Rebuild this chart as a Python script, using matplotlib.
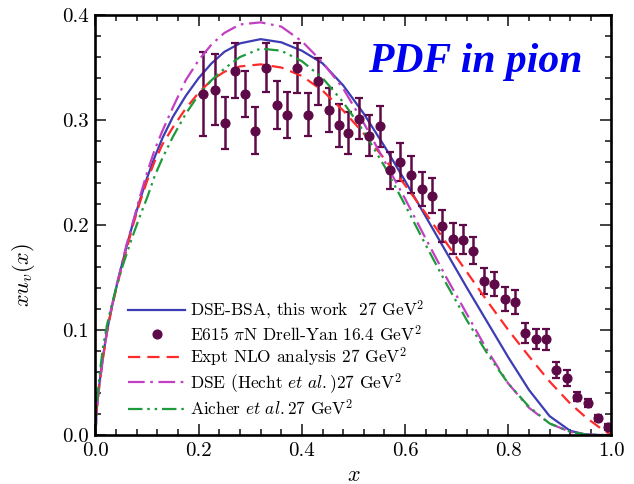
import matplotlib
matplotlib.use('Agg')
import matplotlib.pyplot as plt
from matplotlib.lines import Line2D
from matplotlib.ticker import MultipleLocator, FormatStrFormatter

plt.rcParams['font.family'] = 'cmr10'
plt.rcParams['mathtext.fontset'] = 'cm'
plt.rcParams['axes.unicode_minus'] = False
plt.rcParams['axes.formatter.use_mathtext'] = True

# E615 pi-N Drell-Yan data (16.4 GeV^2)
e615_x = [0.209, 0.231, 0.251, 0.270, 0.290, 0.310, 0.330, 0.351, 0.371, 0.391,
          0.411, 0.432, 0.452, 0.471, 0.490, 0.511, 0.531, 0.551, 0.571, 0.591,
          0.611, 0.632, 0.652, 0.672, 0.692, 0.712, 0.732, 0.752, 0.773, 0.793,
          0.813, 0.833, 0.853, 0.873, 0.893, 0.913, 0.933, 0.954, 0.973, 0.994]
e615_y = [0.325, 0.329, 0.297, 0.347, 0.325, 0.290, 0.350, 0.314, 0.305, 0.3495,
          0.305, 0.337, 0.3095, 0.295, 0.288, 0.301, 0.285, 0.294, 0.252, 0.260,
          0.248, 0.234, 0.228, 0.199, 0.187, 0.186, 0.1755, 0.1467, 0.144, 0.1295,
          0.127, 0.097, 0.091, 0.091, 0.062, 0.0543, 0.0365, 0.0305, 0.016, 0.0076]
e615_err = [0.040, 0.0335, 0.025, 0.026, 0.022, 0.022, 0.0235, 0.023, 0.022, 0.0235,
            0.0205, 0.0225, 0.021, 0.0205, 0.020, 0.0195, 0.0195, 0.0195, 0.0175, 0.0185,
            0.0178, 0.0163, 0.0165, 0.0153, 0.0145, 0.014, 0.013, 0.012, 0.0113, 0.0113,
            0.0113, 0.0095, 0.0095, 0.0098, 0.008, 0.0072, 0.004, 0.004, 0.003, 0.003]

# common x grid the curves were read on
curve_x = [0, 0.002, 0.005, 0.01, 0.015, 0.022, 0.03, 0.04, 0.05, 0.06, 0.071,
           0.085, 0.1, 0.115, 0.13, 0.15, 0.175, 0.2, 0.225, 0.25, 0.28, 0.32,
           0.36, 0.4, 0.44, 0.48, 0.52, 0.56, 0.6, 0.64, 0.68, 0.72, 0.76, 0.8,
           0.84, 0.88, 0.92, 0.95, 0.98, 1.0]

# DSE-BSA, this work, 27 GeV^2
bsa_y = [0, 0.022, 0.038, 0.058, 0.076, 0.098, 0.118, 0.14, 0.16, 0.179, 0.199,
         0.222, 0.245, 0.265, 0.283, 0.303, 0.323, 0.34, 0.354, 0.365, 0.373, 0.377,
         0.374, 0.366, 0.354, 0.333, 0.306, 0.275, 0.242, 0.208, 0.174, 0.140, 0.107, 0.074,
         0.043, 0.018, 0.004, 0.0005, 0.0, 0.0]

# Expt NLO analysis, 27 GeV^2
nlo_y = [0, 0.022, 0.037, 0.057, 0.075, 0.097, 0.117, 0.139, 0.158, 0.176, 0.197,
         0.22, 0.242, 0.261, 0.277, 0.293, 0.311, 0.326, 0.338, 0.346, 0.351, 0.353,
         0.350, 0.342, 0.328, 0.309, 0.287, 0.263, 0.238, 0.211, 0.183, 0.155, 0.127, 0.100,
         0.075, 0.051, 0.030, 0.017, 0.006, 0.0]

# DSE (Hecht et al.), 27 GeV^2
hecht_y = [0, 0.02, 0.036, 0.056, 0.075, 0.098, 0.119, 0.141, 0.161, 0.181, 0.2,
           0.225, 0.25, 0.272, 0.29, 0.312, 0.338, 0.357, 0.372, 0.383, 0.391, 0.393,
           0.389, 0.375, 0.355, 0.33, 0.297, 0.261, 0.225, 0.187, 0.150, 0.115, 0.080, 0.049,
           0.026, 0.011, 0.003, 0.0005, 0.0, 0.0]

# Aicher et al., 27 GeV^2
aicher_y = [0, 0.025, 0.043, 0.066, 0.085, 0.104, 0.121, 0.14, 0.157, 0.172, 0.188,
            0.207, 0.226, 0.247, 0.264, 0.284, 0.306, 0.324, 0.338, 0.349, 0.36, 0.368,
            0.366, 0.356, 0.34, 0.317, 0.289, 0.256, 0.219, 0.181, 0.144, 0.109, 0.077, 0.049,
            0.027, 0.011, 0.003, 0.0005, 0.0, 0.0]

labels = [r'DSE-BSA, this work  27 GeV$^2$',
          r'E615 $\pi$N Drell-Yan 16.4 GeV$^2$',
          r'Expt NLO analysis 27 GeV$^2$',
          r'DSE (Hecht $et\ al.$)27 GeV$^2$',
          r'Aicher $et\ al.$27 GeV$^2$']

dot_color = '#5e0a48'

fig = plt.figure(figsize=(6.34, 4.84), dpi=100)
ax = fig.add_axes([0.1506, 0.1012, 0.8139, 0.8678])

h_bsa, = ax.plot(curve_x, bsa_y, color='#3c3cb4', lw=1.6)
ax.errorbar(e615_x, e615_y, yerr=e615_err, fmt='o', color=dot_color, ms=6.3,
            elinewidth=1.8, capsize=3, capthick=1.6)
h_nlo, = ax.plot(curve_x, nlo_y, color='#ff2a2a', lw=1.6, linestyle=(0, (5.5, 3.2)))
h_hecht, = ax.plot(curve_x, hecht_y, color='#c23fc2', lw=1.6,
                   linestyle=(0, (7.5, 2.5, 1.2, 2.5)))
h_aicher, = ax.plot(curve_x, aicher_y, color='#1e9a3c', lw=1.6,
                    linestyle=(0, (6.5, 2.2, 1.1, 2.2, 1.1, 2.2)))
h_e615 = Line2D([], [], marker='o', ls='none', color=dot_color, ms=6.3)

ax.set_xlim(0, 1.0)
ax.set_ylim(0, 0.4)
ax.xaxis.set_major_locator(MultipleLocator(0.2))
ax.xaxis.set_minor_locator(MultipleLocator(0.04))
ax.yaxis.set_major_locator(MultipleLocator(0.1))
ax.yaxis.set_minor_locator(MultipleLocator(0.02))
ax.xaxis.set_major_formatter(FormatStrFormatter('%.1f'))
ax.yaxis.set_major_formatter(FormatStrFormatter('%.1f'))
ax.tick_params(which='both', direction='in', top=True, right=True, width=1.2,
               labelsize=15, color='#222222')
ax.tick_params(which='major', length=8, pad=5)
ax.tick_params(which='minor', length=4)
for s in ax.spines.values():
    s.set_linewidth(1.9)

ax.set_xlabel(r'$x$', fontsize=16)
ax.set_ylabel(r'$xu_v(x)$', fontsize=16)
ax.xaxis.set_label_coords(0.5, -0.072)
ax.yaxis.set_label_coords(-0.114, 0.38)

ax.text(0.528, 0.864, 'PDF in pion', transform=ax.transAxes, color='#0000f0',
        fontsize=30, fontweight='bold', fontstyle='italic',
        family='Liberation Serif', va='baseline', ha='left')

ax.legend([h_bsa, h_e615, h_nlo, h_hecht, h_aicher], labels,
          loc='lower left', bbox_to_anchor=(0.063, 0.04), frameon=False,
          fontsize=12.5, handlelength=3.3, handletextpad=0.3, labelspacing=0.12,
          borderpad=0, borderaxespad=0, numpoints=1)

fig.savefig('out.png', dpi=100)
